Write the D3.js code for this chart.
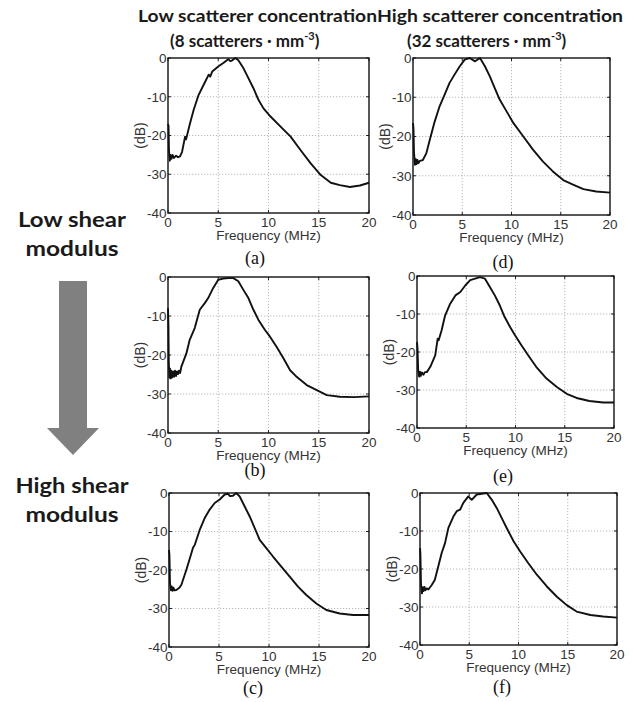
<!DOCTYPE html>
<html>
<head>
<meta charset="utf-8">
<script src="https://cdn.jsdelivr.net/npm/d3@7"></script>
<style>
  body { margin: 0; background: #fff; }
  svg { display: block; }
</style>
</head>
<body>
<div id="chart"></div>
<script>
// normalized spectra: [frequency MHz, dB]
const spectrumA = [[0,-17],[0.05,-17.5],[0.1,-24],[0.18,-26.5],[0.25,-25],[0.35,-26],[0.45,-25],[0.6,-25.8],[0.8,-25.2],[1.0,-25.6],[1.2,-25.4],[1.4,-24.2],[1.7,-20.3],[1.8,-21],[1.9,-19.9],[2.2,-16.8],[2.55,-13.4],[3.05,-9.5],[3.55,-6.9],[4.05,-4.3],[4.2,-4.8],[4.4,-3.5],[5.0,-2.2],[5.5,-1.3],[6.0,-0.3],[6.2,-0.8],[6.4,-0.6],[6.7,0],[7.0,-0.6],[7.5,-2.6],[8.0,-5.2],[8.5,-7.8],[9.0,-10.8],[9.5,-13.0],[10.2,-15.1],[11.2,-17.7],[12.2,-20.3],[13.2,-23.8],[14.2,-27.2],[15.2,-30.2],[16.2,-32.2],[17.1,-32.8],[18.1,-33.3],[19.1,-32.9],[20,-32.2]];
const spectrumB = [[0,-8],[0.04,-12],[0.08,-22],[0.14,-25.8],[0.2,-23.5],[0.26,-26],[0.32,-24],[0.4,-25.8],[0.5,-24.2],[0.6,-25.6],[0.7,-24],[0.8,-25.4],[0.9,-24.2],[1.0,-24.9],[1.1,-24],[1.2,-24.6],[1.33,-23],[1.83,-19.6],[2.16,-16.1],[2.66,-13.1],[3.16,-8.4],[3.66,-6.7],[4.0,-5.4],[4.5,-2.8],[5.0,-0.7],[5.5,-0.4],[6.0,-0.3],[6.5,-0.3],[7.0,-1.1],[7.5,-3.3],[8.0,-5.4],[8.5,-8.4],[9.0,-11],[9.65,-13.6],[10.15,-15.3],[10.8,-17.9],[11.5,-20.9],[12.15,-23.9],[12.8,-25.6],[13.8,-27.7],[14.8,-29],[15.8,-30.3],[17.1,-30.7],[18.5,-30.8],[20,-30.6]];
const spectrumC = [[0,-14.8],[0.04,-16],[0.1,-23.5],[0.2,-25.3],[0.28,-24.3],[0.36,-25.4],[0.45,-24.6],[0.55,-25.3],[0.73,-25.2],[1.0,-24.7],[1.23,-23.9],[1.73,-20],[2.23,-15.7],[2.4,-14.2],[2.57,-13.5],[3.07,-9.6],[3.57,-6.5],[4.07,-4.3],[4.57,-2.6],[5.07,-1.7],[5.57,-0.4],[5.9,-0.2],[6.1,-0.8],[6.4,-0.7],[6.73,0],[7.07,-0.9],[7.57,-3.5],[8.07,-6.1],[8.57,-9.1],[9.07,-12.2],[9.73,-14.3],[10.4,-16.5],[11.23,-19.1],[12.07,-21.7],[12.9,-24.3],[13.73,-26.5],[14.73,-28.7],[15.73,-30.4],[17.07,-31.3],[18.4,-31.7],[20,-31.7]];
const spectrumD = [[0,-16.6],[0.05,-18],[0.1,-24],[0.2,-27.2],[0.28,-25.8],[0.36,-27],[0.45,-26],[0.55,-26.8],[0.7,-26.2],[1.0,-26],[1.35,-24.3],[1.7,-20.9],[2.2,-16.2],[2.7,-12.3],[3.2,-9.4],[3.7,-6.4],[4.2,-4.3],[4.75,-2.1],[5.25,-0.4],[5.75,0],[6.3,-0.85],[6.8,0],[7.3,-2.1],[7.8,-4.7],[8.3,-7.7],[8.8,-10.6],[9.5,-13.6],[10.2,-16.6],[11.2,-20],[12.2,-23.4],[13.2,-26.4],[14.2,-28.9],[15.25,-31.1],[16.3,-32.3],[17.3,-33.4],[18.6,-34],[20,-34.3]];
const spectrumE = [[0,-17.4],[0.05,-19],[0.12,-25],[0.22,-26.5],[0.3,-25.2],[0.38,-26.3],[0.5,-25.4],[0.65,-26],[0.8,-25.3],[1.0,-25.3],[1.35,-23.9],[1.85,-20.9],[2.1,-16.5],[2.2,-16.9],[2.5,-14.3],[2.85,-10.4],[3.37,-7.3],[3.9,-5.1],[4.4,-4.2],[4.9,-2.5],[5.4,-1.1],[5.9,-0.7],[6.4,-0.3],[6.9,-0.7],[7.4,-2.9],[7.9,-5.1],[8.4,-7.7],[8.9,-10.8],[9.45,-13.4],[9.95,-15.6],[10.6,-18.2],[11.3,-20.9],[12.1,-23.9],[13.15,-27],[14.2,-29.2],[15.2,-31],[16.2,-32.1],[17.5,-32.9],[18.9,-33.3],[20,-33.3]];
const spectrumF = [[0,-14.5],[0.04,-16],[0.1,-24],[0.2,-26.4],[0.28,-24.8],[0.36,-25.8],[0.45,-24.7],[0.55,-25.6],[0.68,-25.1],[0.85,-25.4],[1.19,-24.2],[1.5,-22.9],[1.86,-19.3],[2.2,-15.8],[2.54,-13.2],[2.88,-9.2],[3.39,-6.2],[3.73,-4.8],[4.07,-4.4],[4.4,-2.6],[4.9,-0.9],[5.25,-1.8],[5.76,-0.4],[6.27,-0.2],[6.78,0],[7.29,-1.8],[7.8,-4],[8.3,-6.6],[8.8,-9.2],[9.5,-12.7],[10.17,-15.4],[11.0,-18.5],[11.86,-21.5],[12.88,-24.6],[13.9,-27.3],[14.9,-29.5],[15.9,-31.2],[17.3,-32.1],[18.6,-32.5],[20,-32.8]];

const xTicks = [0, 5, 10, 15, 20];
const yTicks = [0, -10, -20, -30, -40];
const captions = ["(a)", "(b)", "(c)", "(d)", "(e)", "(f)"];
const columnTitles = ["Low scatterer concentration", "High scatterer concentration"];
const columnUnits = ["(8 scatterers \u00b7 mm", "(32 scatterers \u00b7 mm"];
const rowLabels = [["Low shear", "modulus"], ["High shear", "modulus"]];

// panel boxes on the page
const panels = [
    { data: spectrumA, x0: 168, x1: 369, y0: 58,  y1: 213, cx: 255, cy: 258 },
    { data: spectrumB, x0: 168, x1: 369, y0: 277, y1: 433, cx: 255, cy: 470 },
    { data: spectrumC, x0: 169, x1: 369, y0: 493, y1: 647, cx: 253, cy: 688 },
    { data: spectrumD, x0: 413, x1: 610, y0: 58,  y1: 215, cx: 503, cy: 262 },
    { data: spectrumE, x0: 417, x1: 614, y0: 276, y1: 428, cx: 503, cy: 476 },
    { data: spectrumF, x0: 420, x1: 617, y0: 493, y1: 645, cx: 502, cy: 687 }
];

const W = 633, H = 702;
const axisFont = "'Liberation Sans', Arial, sans-serif";
const headFont = "Lato, 'Open Sans', sans-serif";

const svg = d3.select("#chart").append("svg")
    .attr("width", W)
    .attr("height", H);

panels.forEach((p, i) => {
    const x = d3.scaleLinear().domain([0, 20]).range([p.x0, p.x1]);
    const y = d3.scaleLinear().domain([-40, 0]).range([p.y1, p.y0]);
    const g = svg.append("g");

    // dotted grid
    g.selectAll("line.gx")
        .data(xTicks.slice(1, -1))
        .enter().append("line")
        .attr("x1", d => x(d)).attr("x2", d => x(d))
        .attr("y1", p.y0).attr("y2", p.y1)
        .attr("stroke", "#b0b0b0").attr("stroke-width", 0.9)
        .attr("stroke-dasharray", "1.2,1.8");

    g.selectAll("line.gy")
        .data(yTicks.slice(1, -1))
        .enter().append("line")
        .attr("x1", p.x0).attr("x2", p.x1)
        .attr("y1", d => y(d)).attr("y2", d => y(d))
        .attr("stroke", "#b0b0b0").attr("stroke-width", 0.9)
        .attr("stroke-dasharray", "1.2,1.8");

    // inward ticks
    xTicks.forEach(t => {
        g.append("line").attr("x1", x(t)).attr("x2", x(t)).attr("y1", p.y1).attr("y2", p.y1 - 3).attr("stroke", "#222");
        g.append("line").attr("x1", x(t)).attr("x2", x(t)).attr("y1", p.y0).attr("y2", p.y0 + 3).attr("stroke", "#222");
    });
    yTicks.forEach(t => {
        g.append("line").attr("x1", p.x0).attr("x2", p.x0 + 3).attr("y1", y(t)).attr("y2", y(t)).attr("stroke", "#222");
        g.append("line").attr("x1", p.x1).attr("x2", p.x1 - 3).attr("y1", y(t)).attr("y2", y(t)).attr("stroke", "#222");
    });

    // spectrum
    g.append("path")
        .datum(p.data)
        .attr("fill", "none")
        .attr("stroke", "#111")
        .attr("stroke-width", 1.9)
        .attr("stroke-linejoin", "round")
        .attr("d", d3.line().x(d => x(d[0])).y(d => y(d[1])));

    // frame
    g.append("rect")
        .attr("x", p.x0).attr("y", p.y0)
        .attr("width", p.x1 - p.x0).attr("height", p.y1 - p.y0)
        .attr("fill", "none").attr("stroke", "#111").attr("stroke-width", 1.4);

    // tick labels
    g.selectAll("text.xt")
        .data(xTicks)
        .enter().append("text")
        .attr("x", d => x(d)).attr("y", p.y1 + 14)
        .attr("text-anchor", "middle")
        .attr("font-family", axisFont).attr("font-size", 13.5).attr("fill", "#333")
        .text(d => d);

    g.selectAll("text.yt")
        .data(yTicks)
        .enter().append("text")
        .attr("x", p.x0 - 1.5).attr("y", d => y(d)).attr("dy", "0.36em")
        .attr("text-anchor", "end")
        .attr("font-family", axisFont).attr("font-size", 13.5).attr("fill", "#333")
        .text(d => d);

    g.append("text")
        .attr("x", (p.x0 + p.x1) / 2).attr("y", p.y1 + 27)
        .attr("text-anchor", "middle")
        .attr("font-family", axisFont).attr("font-size", 13.5).attr("fill", "#333")
        .text("Frequency (MHz)");

    g.append("text")
        .attr("transform", `translate(${p.x0 - 23},${(p.y0 + p.y1) / 2}) rotate(-90)`)
        .attr("text-anchor", "middle")
        .attr("font-family", axisFont).attr("font-size", 14).attr("fill", "#333")
        .text("(dB)");

    g.append("text")
        .attr("x", p.cx).attr("y", p.cy + 6)
        .attr("text-anchor", "middle")
        .attr("font-family", "'Liberation Serif', 'Times New Roman', serif")
        .attr("font-size", 18).attr("fill", "#111")
        .text(captions[i]);
});

// column headers
const titleSpan = [[138, 239], [377, 246]];
const unitSpan = [[170, 177], [407, 206]];
columnTitles.forEach((t, i) => {
    svg.append("text")
        .attr("x", titleSpan[i][0]).attr("y", 22)
        .attr("font-family", headFont).attr("font-weight", "bold")
        .attr("font-size", 17).attr("fill", "#1a1a1a")
        .attr("textLength", titleSpan[i][1]).attr("lengthAdjust", "spacingAndGlyphs")
        .text(t);

    const u = svg.append("text")
        .attr("x", unitSpan[i][0]).attr("y", 47)
        .attr("font-family", headFont).attr("font-weight", "bold")
        .attr("font-size", 17).attr("fill", "#1a1a1a");
    u.append("tspan").text(columnUnits[i]);
    u.append("tspan").attr("dy", -7).attr("font-size", 11).text("-3");
    u.append("tspan").attr("dy", 7).text(")");
});

// row labels
const rowY = [[227, 256], [493, 522]];
const rowW = [[108, 93], [113, 93]];
rowLabels.forEach((lines, i) => {
    lines.forEach((l, j) => {
        svg.append("text")
            .attr("x", 72).attr("y", rowY[i][j])
            .attr("text-anchor", "middle")
            .attr("font-family", headFont).attr("font-weight", "bold")
            .attr("font-size", 21).attr("fill", "#1a1a1a")
            .attr("textLength", rowW[i][j]).attr("lengthAdjust", "spacingAndGlyphs")
            .text(l);
    });
});

// gray arrow between row labels
svg.append("path")
    .attr("d", "M59,281 L87,281 L87,428 L99,428 L73,455 L47,428 L59,428 Z")
    .attr("fill", "#808080");
</script>
</body>
</html>
